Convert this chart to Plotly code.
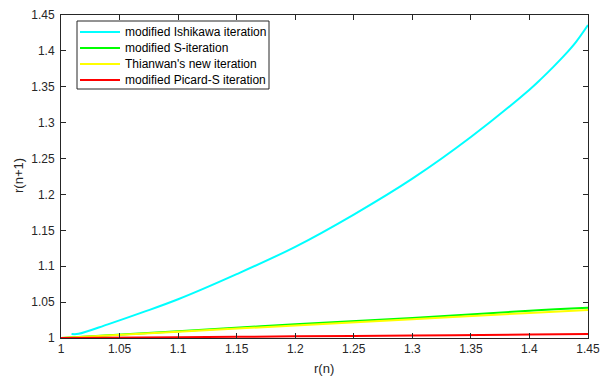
import plotly.graph_objects as go

# Data
x_ish = [1.009, 1.015, 1.04, 1.07, 1.10, 1.15, 1.20, 1.25, 1.30, 1.35, 1.40, 1.41, 1.42, 1.43, 1.44, 1.45]
y_ish = [1.0056, 1.0058, 1.019, 1.036, 1.054, 1.089, 1.127, 1.172, 1.222, 1.280, 1.346,
         1.361, 1.377, 1.394, 1.413, 1.436]

x_lin = [1.0, 1.1, 1.2, 1.3, 1.4, 1.45]
y_s = [1.0, 1.0095, 1.019, 1.028, 1.038, 1.042]
y_thi = [1.0, 1.0088, 1.0175, 1.026, 1.035, 1.039]
y_pic = [1.0, 1.0011, 1.0023, 1.0035, 1.0049, 1.0056]

names = ["modified Ishikawa iteration", "modified S-iteration",
         "Thianwan's new iteration", "modified Picard-S iteration"]
colors = ["#00FFFF", "#00FF00", "#FFFF00", "#FF0000"]

tick_vals = [1, 1.05, 1.1, 1.15, 1.2, 1.25, 1.3, 1.35, 1.4, 1.45]
tick_text = ["1", "1.05", "1.1", "1.15", "1.2", "1.25", "1.3", "1.35", "1.4", "1.45"]

W, H = 602, 379
L, R, T, B = 61, 14, 15, 41
PW, PH = W - L - R, H - T - B


def px(xp):
    return (xp - L) / PW


def py(yp):
    return (H - B - yp) / PH


FONT = "Liberation Sans, Arial, Helvetica"
TXT = "#262626"

fig = go.Figure()
series = [(x_ish, y_ish), (x_lin, y_s), (x_lin, y_thi), (x_lin, y_pic)]
for (xs, ys), n, c in zip(series, names, colors):
    fig.add_trace(go.Scatter(x=xs, y=ys, mode="lines", name=n, showlegend=False,
                             line=dict(color=c, width=2, shape="spline", smoothing=1)))

axis_common = dict(
    showline=True, linecolor=TXT, linewidth=1, mirror="ticks",
    ticks="inside", ticklen=5, tickcolor=TXT, tickwidth=1,
    showgrid=False, zeroline=False, automargin=False,
    tickvals=tick_vals, ticktext=tick_text,
    tickfont=dict(family=FONT, size=12, color=TXT),
)

shapes = []
annotations = []
# Custom legend box
shapes.append(dict(type="rect", xref="paper", yref="paper",
                   x0=px(77), x1=px(269), y0=py(89), y1=py(21),
                   line=dict(color=TXT, width=1), fillcolor="white", layer="above"))
rows = [32, 48, 64, 80]
for n, c, r in zip(names, colors, rows):
    shapes.append(dict(type="line", xref="paper", yref="paper",
                       x0=px(80), x1=px(120), y0=py(r), y1=py(r),
                       line=dict(color=c, width=2), layer="above"))
    annotations.append(dict(xref="paper", yref="paper", x=px(123), y=py(r),
                            xanchor="left", yanchor="middle", showarrow=False,
                            text=n, font=dict(family=FONT, size=12, color="#000000")))

# Axis titles
annotations.append(dict(xref="paper", yref="paper", x=px(324), y=py(368),
                        xanchor="center", yanchor="middle", showarrow=False,
                        text="r(n)", font=dict(family=FONT, size=13, color=TXT)))
annotations.append(dict(xref="paper", yref="paper", x=px(18), y=py(176),
                        xanchor="center", yanchor="middle", showarrow=False, textangle=-90,
                        text="r(n+1)", font=dict(family=FONT, size=13, color=TXT)))

fig.update_layout(
    width=W, height=H,
    margin=dict(l=L, r=R, t=T, b=B, autoexpand=False),
    paper_bgcolor="white", plot_bgcolor="white",
    font=dict(family=FONT, size=12, color=TXT),
    xaxis=dict(range=[1, 1.45], **axis_common),
    yaxis=dict(range=[1, 1.45], ticklabelstandoff=3, **axis_common),
    shapes=shapes, annotations=annotations,
    showlegend=False,
)

fig.write_html("out.html", config={"displayModeBar": False},
               post_script="document.body.style.margin='0';document.body.style.overflow='hidden';")
